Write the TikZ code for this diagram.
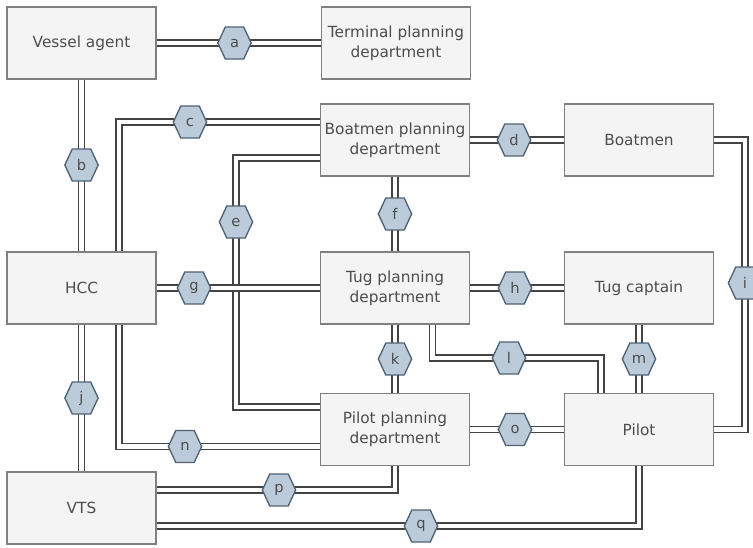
\documentclass[tikz,border=0pt]{standalone}
\usepackage{fontspec}
\setmainfont{DejaVu Sans}
\usetikzlibrary{calc,shapes.symbols}
\definecolor{boxfill}{HTML}{F4F4F4}
\definecolor{boxline}{HTML}{808080}
\definecolor{txt}{HTML}{4D4D4D}
\definecolor{hexfill}{HTML}{BCCBD9}
\definecolor{hexline}{HTML}{4F6273}
\definecolor{conncol}{HTML}{444444}
\begin{document}
\begin{tikzpicture}[x=0.75pt,y=-0.75pt,
  box/.style={draw=boxline, fill=boxfill, line width=1.2pt, minimum width=111.75pt,
    minimum height=54pt, inner sep=0pt, align=center, text=txt,
    font=\fontsize{11.5}{15}\selectfont},
  hex/.style={signal, signal to=west and east, signal pointer angle=130,
    draw=hexline, fill=hexfill, line width=1pt, minimum width=25pt,
    minimum height=24pt, inner sep=0pt, text=txt,
    font=\fontsize{11}{12}\selectfont},
  conn/.style={draw=conncol, line width=1.1pt, double=white, double distance=3.3pt,
    line join=miter}]
\useasboundingbox (0,0) rectangle (753,547);
\fill[white] (0,0) rectangle (753,547);
% boxes
\node[box] (va)    at (81.5,43)   {Vessel agent};
\node[box] (tpd)   at (396,43)    {Terminal planning\\department};
\node[box] (bpd)   at (395,140)   {Boatmen planning\\department};
\node[box] (boat)  at (639,140)   {Boatmen};
\node[box] (hcc)   at (81.5,288)  {HCC};
\node[box] (tug)   at (395,288)   {Tug planning\\department};
\node[box] (tc)    at (639,288)   {Tug captain};
\node[box] (ppd)   at (395,429.5) {Pilot planning\\department};
\node[box] (pilot) at (639,429.5) {Pilot};
\node[box] (vts)   at (81.5,508)  {VTS};
% hexagon positions
\coordinate (xa) at (234.5,43);
\coordinate (xb) at (81.5,165);
\coordinate (xc) at (190,122);
\coordinate (xd) at (514,140);
\coordinate (xe) at (236,222);
\coordinate (xf) at (395,214);
\coordinate (xg) at (194,288);
\coordinate (xh) at (515,288);
\coordinate (xi) at (745,283);
\coordinate (xj) at (81.5,398);
\coordinate (xk) at (395,359);
\coordinate (xl) at (509,358);
\coordinate (xm) at (639,359);
\coordinate (xn) at (185,446.5);
\coordinate (xo) at (515,429.5);
\coordinate (xp) at (279,490);
\coordinate (xq) at (421,526);
% connectors
\draw[conn] (va.east) -- (tpd.west);
\draw[conn] (va.south) -- (hcc.north);
\draw[conn] ($(hcc.north)+(37.5,0)$) |- (xc) -- ($(bpd.west)+(0,-18)$);
\draw[conn] (bpd.east) -- (boat.west);
\draw[conn] ($(bpd.west)+(0,18)$) -| (xe) |- ($(ppd.west)+(0,-22.5)$);
\draw[conn] (bpd.south) -- (tug.north);
\draw[conn] (hcc.east) -- (tug.west);
\draw[conn] (tug.east) -- (tc.west);
\draw[conn] (boat.east) -| (xi) |- (pilot.east);
\draw[conn] (hcc.south) -- (vts.north);
\draw[conn] (tug.south) -- (ppd.north);
\draw[conn] ($(tug.south)+(37.5,0)$) |- (xl) -| ($(pilot.north)+(-38,0)$);
\draw[conn] (tc.south) -- (pilot.north);
\draw[conn] ($(hcc.south)+(37.5,0)$) |- (xn) -- ($(ppd.west)+(0,17)$);
\draw[conn] (ppd.east) -- (pilot.west);
\draw[conn] ($(vts.east)+(0,-18)$) -- (xp) -| (ppd.south);
\draw[conn] ($(vts.east)+(0,18)$) -- (xq) -| (pilot.south);
% hexagons
\foreach \l in {a,b,c,d,e,f,g,h,i,j,k,l,m,n,o,p,q}
  \node[hex] (h\l) at (x\l) {\l};
\end{tikzpicture}
\end{document}
